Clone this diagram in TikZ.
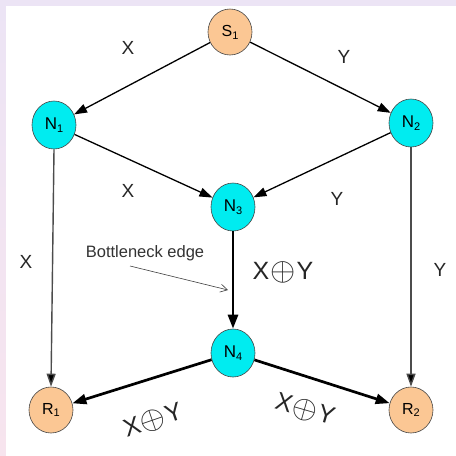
\documentclass[tikz,border=0pt]{standalone}
\usepackage{graphicx}
\usepackage{fontspec}
\setmainfont{Liberation Sans}
\usetikzlibrary{shapes.geometric,arrows.meta}
\definecolor{peach}{RGB}{251,199,148}
\definecolor{cyanfill}{RGB}{0,236,240}
\definecolor{lav}{RGB}{236,228,245}
\definecolor{pinkish}{RGB}{247,228,238}
\definecolor{rimgray}{RGB}{70,70,70}
\newcommand{\nsub}[2]{#1\raisebox{-0.35ex}{\fontsize{11}{11}\selectfont #2}}
\newcommand{\xoy}{X\hspace{1pt}\raisebox{-0.05ex}{\scalebox{1.3}{$\oplus$}}\hspace{1pt}Y}
\tikzset{
  onode/.style={ellipse, draw=rimgray, line width=0.6pt, fill=peach, minimum width=44pt, minimum height=46pt, inner sep=0pt, font=\fontsize{16}{16}\selectfont},
  cnode/.style={ellipse, draw=rimgray, line width=0.6pt, fill=cyanfill, minimum width=44pt, minimum height=48pt, inner sep=0pt, font=\fontsize{17}{17}\selectfont},
  thinedge/.style={line width=1.3pt, -{Triangle[length=13pt,width=9pt]}},
  grayedge/.style={line width=1.4pt, draw=black!70, -{Triangle[length=13pt,width=9pt,fill=black]}},
  thickedge/.style={line width=2.7pt, -{Triangle[length=14pt,width=10pt]}},
  lbl/.style={font=\fontsize{19}{19}\selectfont, text=black!85},
  biglbl/.style={font=\fontsize{25}{25}\selectfont, text=black!85, inner sep=0pt},
}
\begin{document}
\begin{tikzpicture}[x=1pt,y=-1pt]
\useasboundingbox (0,0) rectangle (456,456);
\fill[lav] (0,0) rectangle (456,456);
\shade[top color=lav, bottom color=pinkish] (0,0) rectangle (6,456);
\fill[white] (6,6) rectangle (456,456);

\node[onode] (S1) at (230,32) {\nsub{S}{1}};
\node[cnode] (N1) at (54,125) {\nsub{N}{1}};
\node[cnode] (N2) at (411,123) {\nsub{N}{2}};
\node[cnode] (N3) at (233,207) {\nsub{N}{3}};
\node[cnode] (N4) at (233,353) {\nsub{N}{4}};
\node[onode] (R1) at (51,410) {\nsub{R}{1}};
\node[onode] (R2) at (411,410) {\nsub{R}{2}};

\draw[thinedge] (S1) -- (N1);
\draw[thinedge] (S1) -- (N2);
\draw[thinedge] (N1) -- (N3);
\draw[thinedge] (N2) -- (N3);
\draw[grayedge] (N1.south) -- (R1.north);
\draw[grayedge] (N2.south) -- (R2.north);
\draw[thickedge] (N3) -- (N4);
\draw[thickedge] (N4) -- (R1);
\draw[thickedge] (N4) -- (R2);

\node[lbl] (lx1) at (128,48) {X};
\node[lbl] (ly1) at (344,57) {Y};
\node[lbl] (lx2) at (128,191) {X};
\node[lbl] (ly2) at (337,199) {Y};
\node[lbl] (lx3) at (26,262) {X};
\node[lbl] (ly3) at (440,270) {Y};

\node[font=\fontsize{16.5}{16.5}\selectfont, text=black!80] (bn) at (145,253) {Bottleneck edge};
\coordinate (bs) at (130,266);
\coordinate (be) at (228,290);
\draw[line width=0.6pt, draw=black!75, -{Straight Barb[length=7pt,width=8pt]}] (bs) -- (be);

\node[biglbl] (m) at (283,272) {\xoy};
\node[biglbl, rotate=19] (ll) at (153,421) {\xoy};
\node[biglbl, rotate=-16] (lr) at (305,410) {\xoy};
\end{tikzpicture}
\end{document}
